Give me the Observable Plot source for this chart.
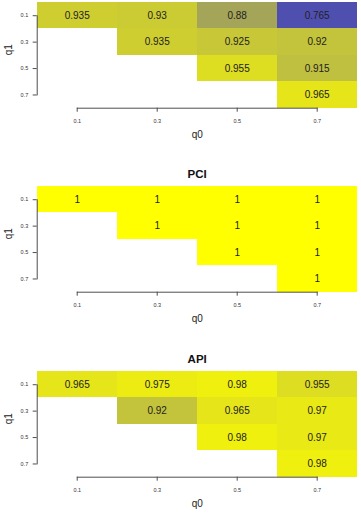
<!DOCTYPE html>
<html>
<head>
<meta charset="utf-8">
<script src="https://cdn.jsdelivr.net/npm/d3@7"></script>
<script src="https://cdn.jsdelivr.net/npm/@observablehq/plot@0.6"></script>
<style>
  html, body { margin: 0; padding: 0; background: #fff; }
  body { position: relative; width: 361px; height: 514px; overflow: hidden; font-family: "Liberation Sans", Arial, Helvetica, sans-serif; }
  .panel { position: absolute; left: 0; }
</style>
</head>
<body>
<div id="p1" class="panel" style="top:0px"></div>
<div id="p2" class="panel" style="top:156px"></div>
<div id="p3" class="panel" style="top:341px"></div>
<script>
// Grid of q0 (columns) and q1 (rows)
const q0Levels = [0.1, 0.3, 0.5, 0.7];
const q1Levels = [0.1, 0.3, 0.5, 0.7];

// Upper-triangular results: one row per q1, one entry per q0 (null = not computed)
const firstValues = [
  [0.935, 0.93, 0.88, 0.765],
  [null, 0.935, 0.925, 0.92],
  [null, null, 0.955, 0.915],
  [null, null, null, 0.965]
];
const pciValues = [
  [1, 1, 1, 1],
  [null, 1, 1, 1],
  [null, null, 1, 1],
  [null, null, null, 1]
];
const apiValues = [
  [0.965, 0.975, 0.98, 0.955],
  [null, 0.92, 0.965, 0.97],
  [null, null, 0.98, 0.97],
  [null, null, null, 0.98]
];

function toCells(matrix) {
  const out = [];
  matrix.forEach((row, i) => row.forEach((v, j) => {
    if (v != null) out.push({q0: q0Levels[j], q1: q1Levels[i], value: v});
  }));
  return out;
}

const half = (q0Levels[1] - q0Levels[0]) / 2;
const x0 = q0Levels[0], xN = q0Levels[q0Levels.length - 1];
const y0 = q1Levels[0], yN = q1Levels[q1Levels.length - 1];
const font = "'Liberation Sans', Arial, Helvetica, sans-serif";
const axisColor = "#4d4d4d";

function panel(matrix, title, marginTop) {
  const cells = toCells(matrix);
  // axis lines run from the first tick to the last one
  const xAxisLine = [{x: x0, y: yN + half}, {x: xN, y: yN + half}];
  const yAxisLine = [{x: x0 - half, y: y0}, {x: x0 - half, y: yN}];
  const marks = [
    Plot.rect(cells, {
      x1: d => d.q0 - half, x2: d => d.q0 + half,
      y1: d => d.q1 - half, y2: d => d.q1 + half,
      fill: "value", inset: 0, shapeRendering: "crispEdges"
    }),
    Plot.text(cells, {x: "q0", y: "q1", text: d => String(d.value), fontSize: 10, fill: "#222"}),
    Plot.line(xAxisLine, {x: "x", y: "y", stroke: axisColor, strokeWidth: 1}),
    Plot.axisX({
      ticks: q0Levels, tickFormat: d => String(d), tickSize: 4, tickPadding: 7,
      fontSize: 5.5, stroke: axisColor, fill: "#333", label: null
    }),
    Plot.line(yAxisLine, {x: "x", y: "y", stroke: axisColor, strokeWidth: 1}),
    Plot.axisY({
      ticks: q1Levels, tickFormat: d => String(d), tickSize: 4, tickPadding: 5,
      fontSize: 5.5, stroke: axisColor, fill: "#333", label: null
    }),
    Plot.text(["q0"], {frameAnchor: "bottom", dy: 29.5, fontSize: 10, fill: "#222"}),
    Plot.text(["q1"], {frameAnchor: "left", dx: -28.7, rotate: -90, fontSize: 10, fill: "#222"})
  ];
  if (title) {
    marks.push(Plot.text([title], {
      frameAnchor: "top", dy: -16.7, fontSize: 11.5, fontWeight: "bold", fill: "#111"
    }));
  }
  const plotH = 105.7, marginBottom = 37;
  return Plot.plot({
    width: 361,
    height: marginTop + plotH + marginBottom,
    marginLeft: 36.7,
    marginRight: 4.3,
    marginTop,
    marginBottom,
    style: {fontFamily: font, background: "#fff", overflow: "visible"},
    x: {type: "linear", domain: [x0 - half, xN + half], axis: null},
    y: {type: "linear", domain: [yN + half, y0 - half], axis: null},
    color: {type: "linear", domain: [0.765, 1], range: ["#4f4fb0", "#ffff00"], interpolate: "rgb"},
    marks
  });
}

document.getElementById("p1").append(panel(firstValues, null, 2));
document.getElementById("p2").append(panel(pciValues, "PCI", 30));
document.getElementById("p3").append(panel(apiValues, "API", 30));
</script>
</body>
</html>
